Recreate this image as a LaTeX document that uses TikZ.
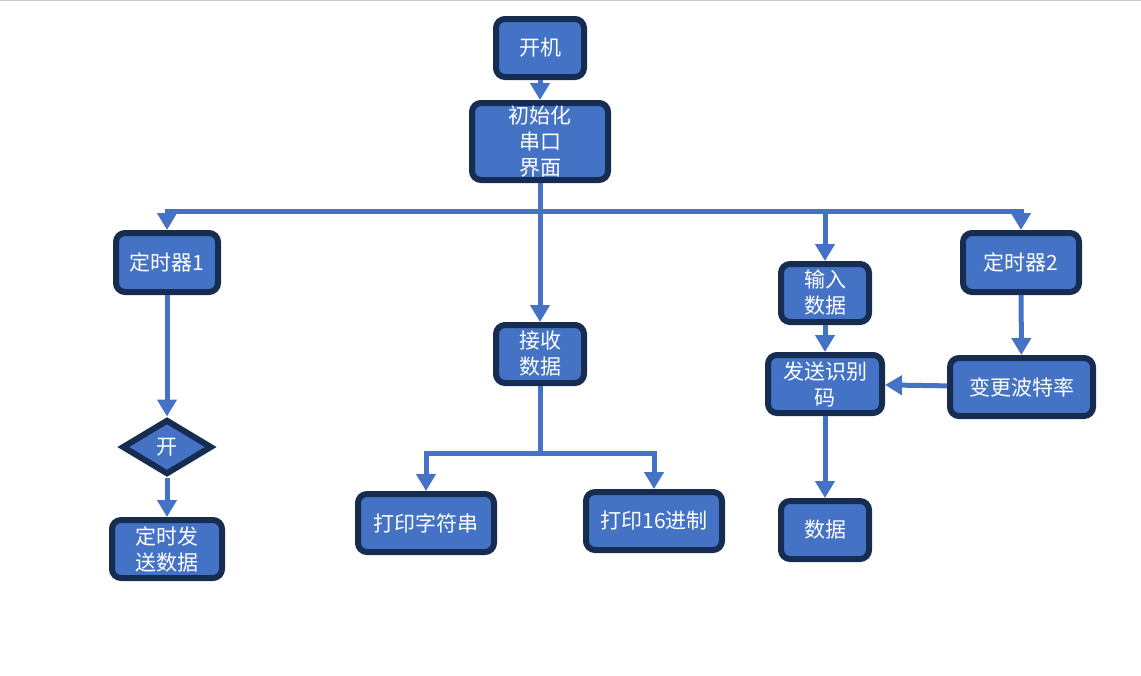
\documentclass[tikz,border=0pt]{standalone}
\usepackage{fontspec}
\setmainfont{Noto Sans CJK SC}
\usetikzlibrary{arrows.meta,shapes.geometric}
\definecolor{boxfill}{HTML}{4472C4}
\definecolor{boxedge}{HTML}{172C51}
\begin{document}
\begin{tikzpicture}[x=1pt,y=-1pt,
  box/.style={draw=boxedge, line width=6pt, fill=boxfill, rounded corners=9pt, text=white,
    font=\fontsize{21}{26}\selectfont, align=center, inner sep=0pt},
  dia/.style={diamond, draw=boxedge, line width=6pt, fill=boxfill, text=white,
    font=\fontsize{21}{26}\selectfont, inner sep=0pt, minimum width=90pt, minimum height=55pt, aspect=1.6},
  conn/.style={draw=boxfill, line width=5pt},
  arr/.style={conn, -{Triangle[width=19pt,length=17pt]}},
]
\useasboundingbox (0,0) rectangle (1141,675);
\draw[gray!45, line width=1pt] (0,0.5) -- (1141,0.5);

\node[box, minimum width=88pt, minimum height=58pt] (on) at (540,48) {开机};
\node[box, minimum width=136pt, minimum height=77pt] (init) at (540,141.5) {初始化\\串口\\界面};
\node[box, minimum width=102pt, minimum height=59pt] (t1) at (167,262.5) {定时器1};
\node[box, minimum width=88pt, minimum height=58pt] (recv) at (540,354) {接收\\数据};
\node[box, minimum width=88pt, minimum height=58pt] (inp) at (825,293) {输入\\数据};
\node[box, minimum width=116pt, minimum height=59pt] (t2) at (1021,262.5) {定时器2};
\node[box, minimum width=114pt, minimum height=58pt] (send) at (825,384) {发送识别\\码};
\node[box, minimum width=143pt, minimum height=58pt] (baud) at (1021.5,387) {变更波特率};
\node[box, minimum width=88pt, minimum height=58pt] (data) at (825,530) {数据};
\node[dia] (open) at (167,447) {开};
\node[box, minimum width=110pt, minimum height=58pt] (tsend) at (167,549) {定时发\\送数据};
\node[box, minimum width=136pt, minimum height=58pt] (str) at (426,523) {打印字符串};
\node[box, minimum width=136pt, minimum height=58pt] (hex) at (654,521) {打印16进制};

\coordinate (bus) at (540,211);
\coordinate (split) at (540,453);

\draw[arr] (on) -- (init);
\draw[arr] (bus) -| (t1);
\draw[arr] (bus) -| (t2);
\draw[arr] (bus) -| (inp);
\draw[arr] (init) -- (recv);
\draw[arr] (t2) -- (baud);
\draw[arr] (baud) -- (send);
\draw[arr] (inp) -- (send);
\draw[arr] (send) -- (data);
\draw[arr] (t1) -- (open);
\draw[arr] (open) -- (tsend);
\draw[conn] (recv) -- (split);
\draw[arr] (split) -| (str);
\draw[arr] (split) -| (hex);
\end{tikzpicture}
\end{document}
